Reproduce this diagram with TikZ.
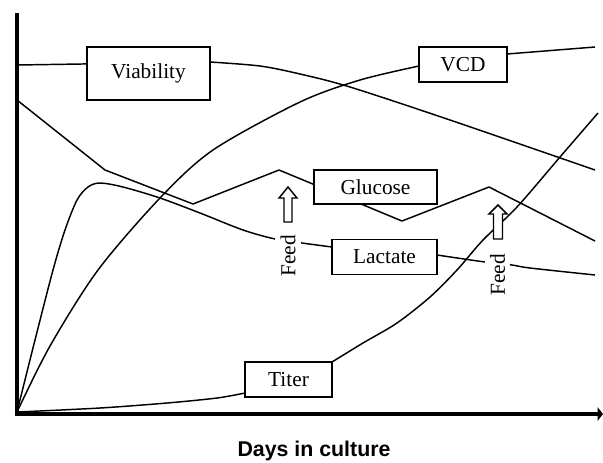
\documentclass[tikz,border=0pt]{standalone}
\usepackage{fontspec}
\setmainfont{Liberation Serif}
\newfontfamily\axisfont{Liberation Sans}
\usetikzlibrary{arrows.meta}

\tikzset{
  curve/.style={line width=1.1pt, line join=round},
  axis/.style={line width=3.6pt},
  labelbox/.style={draw, fill=white, line width=1.1pt, inner sep=0pt,
    font=\fontsize{16}{19}\selectfont},
  feedtext/.style={fill=white, rotate=90, inner xsep=1pt, inner ysep=4pt,
    font=\fontsize{16}{19}\selectfont},
  feedarrow/.style={draw, fill=white, line width=1.1pt, line join=miter},
}

\begin{document}
\begin{tikzpicture}[x=0.75pt, y=-0.75pt]
    \useasboundingbox (0,0) rectangle (603,462);

    % culture curves
    \draw[curve] (17,65) -- (210,62)
      plot[smooth] coordinates {(210,62) (260,66) (300,74) (350,87) (450,120) (595,170)};
    \draw[curve] plot[smooth] coordinates {(17,412) (50,346) (98,270) (160,198)
      (213,150) (300,102) (360,80) (419,66)} -- (507,54) -- (595,47);
    \draw[curve] (17,100) -- (105,170) -- (193,204) -- (279,170) -- (402,221)
      -- (489,187) -- (595,241);
    \draw[curve] plot[smooth] coordinates {(17,412) (35,340) (53,270) (65,230)
      (77,200) (88,187) (100,183) (123,187) (160,198) (200,213) (243,230)
      (275,239) (302,243) (332,247)} -- (437,255)
      plot[smooth] coordinates {(437,255) (485,262) (512,265) (530,268) (595,275)};
    \draw[curve] plot[smooth] coordinates {(17,412) (100,408) (167,403) (217,398)
      (245,393)} -- (332,362)
      plot[smooth] coordinates {(332,362) (363,343) (397,323) (430,297) (457,270)
      (483,240) (517,207) (560,157) (598,113)};

    % labels
    \node[labelbox, minimum width=92pt, minimum height=40pt] (viability) at (148.5,73.5) {Viability};
    \node[labelbox, minimum width=66pt, minimum height=26pt] (vcd) at (463,64.5) {VCD};
    \node[labelbox, minimum width=92pt, minimum height=25.5pt] (glucose) at (375.5,187) {Glucose};
    \node[labelbox, minimum width=79pt, minimum height=26pt] (lactate) at (384.5,257) {Lactate};
    \node[labelbox, minimum width=65pt, minimum height=26pt] (titer) at (288.5,379.5) {Titer};

    % feeds
    \draw[feedarrow] (284,222) -- (284,198) -- (279,198) -- (288,187)
      -- (297,198) -- (292,198) -- (292,222) -- cycle;
    \draw[feedarrow] (493.5,239) -- (493.5,214) -- (489,214) -- (498,205)
      -- (507,214) -- (502.5,214) -- (502.5,239) -- cycle;
    \node[feedtext] (feed1) at (288,256) {Feed};
    \node[feedtext] (feed2) at (497.5,275) {Feed};

    % axes
    \draw[axis] (17,13) -- (17,416);
    \draw[axis, -{Triangle[length=4pt, width=10pt]}] (15,414) -- (603,414);
    \node[font=\axisfont\bfseries\fontsize{16}{19}\selectfont] (days) at (314,451) {Days in culture};
  \end{tikzpicture}
\end{document}
